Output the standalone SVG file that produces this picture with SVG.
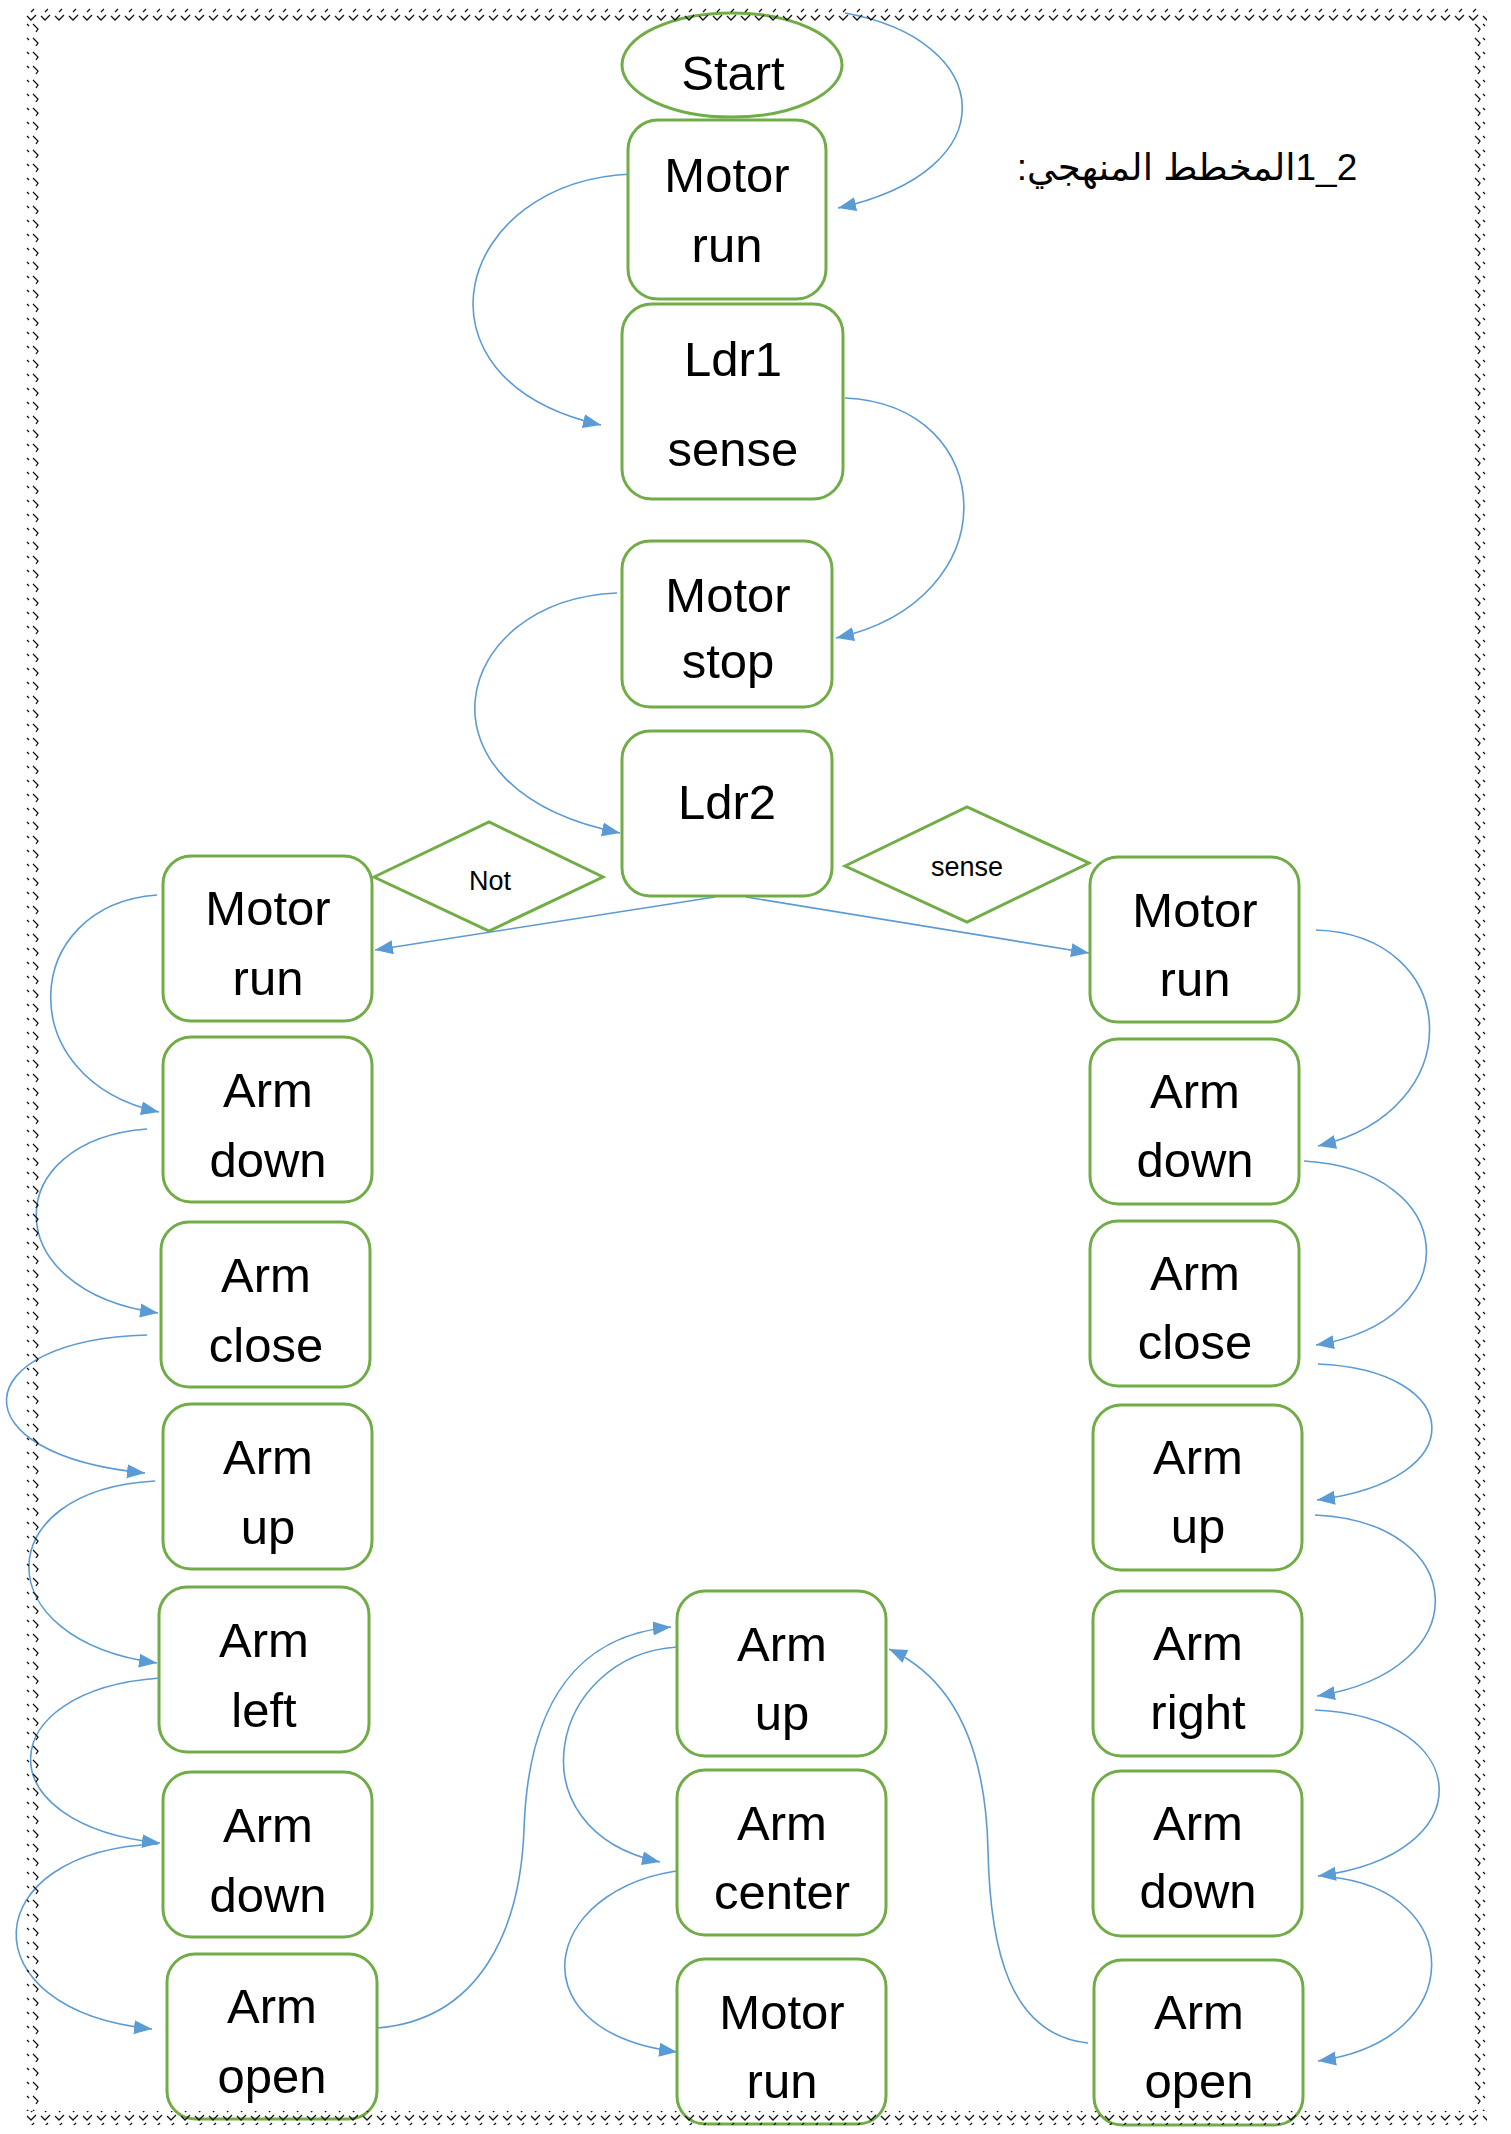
<svg xmlns="http://www.w3.org/2000/svg" width="1511" height="2134" viewBox="0 0 1511 2134">
  <style>
    .box { fill: #ffffff; stroke: #70AD47; stroke-width: 3; }
    .lbl { font-family: "Liberation Sans", Arial, sans-serif; font-size: 49px; fill: #000000; text-anchor: middle; }
    .small { font-family: "Liberation Sans", Arial, sans-serif; font-size: 27px; fill: #000000; text-anchor: middle; }
    .title { font-family: "Liberation Sans", "DejaVu Sans", sans-serif; font-size: 37px; fill: #000000; text-anchor: middle; direction: rtl; unicode-bidi: embed; }
    .link { fill: none; stroke: #5B9BD5; stroke-width: 1.6; marker-end: url(#arrow); }
    .tick { fill: none; stroke: #111111; stroke-width: 1.3; }
  </style>
  <defs>
    <marker id="arrow" markerUnits="userSpaceOnUse" markerWidth="19" markerHeight="16" refX="18" refY="8" orient="auto">
      <path d="M0,1 L18,8 L0,15 z" fill="#5B9BD5"/>
    </marker>
    <!-- page border art: horizontal and vertical zigzag bands -->
    <pattern id="zzH" patternUnits="userSpaceOnUse" x="26" y="8" width="14" height="14">
      <path class="tick" d="M5,4 L8,1 M1,8 L5,12 L10,7"/>
    </pattern>
    <pattern id="zzV" patternUnits="userSpaceOnUse" x="26" y="8" width="14" height="14">
      <path class="tick" d="M1,2 L3,4 M7,2 L12,7 L10,10"/>
    </pattern>
  </defs>

  <rect width="1511" height="2134" fill="#ffffff"/>

  <!-- heading -->
  <text class="title" x="1187" y="180">2_1المخطط المنهجي:</text>

  <!-- connectors -->
  <g id="connectors">
    <path class="link" d="M845,13 C995,40 1010,170 838,208"/>
    <path class="link" d="M633,174 C455,180 400,380 601,425"/>
    <path class="link" d="M845,398 C1000,405 1010,600 836,638"/>
    <path class="link" d="M617,593 C450,600 405,790 620,833"/>
    <path class="link" d="M715,897 L375,950"/>
    <path class="link" d="M746,897 L1089,953"/>
    <!-- left column -->
    <path class="link" d="M157,895 C20,905 10,1080 159,1112"/>
    <path class="link" d="M147,1129 C0,1140 -5,1290 158,1313"/>
    <path class="link" d="M147,1335 C-35,1340 -45,1455 145,1473"/>
    <path class="link" d="M155,1481 C-12,1490 -15,1640 157,1663"/>
    <path class="link" d="M160,1678 C-10,1690 -15,1825 160,1843"/>
    <path class="link" d="M158,1844 C-25,1850 -35,2010 152,2029"/>
    <!-- across to the middle column -->
    <path class="link" d="M377,2028 C480,2020 520,1930 524,1830 C528,1700 580,1635 671,1627"/>
    <path class="link" d="M677,1647 C550,1655 510,1830 660,1862"/>
    <path class="link" d="M700,1869 C545,1875 505,2030 677,2052"/>
    <!-- right column -->
    <path class="link" d="M1316,930 C1462,935 1472,1110 1318,1146"/>
    <path class="link" d="M1304,1161 C1460,1170 1470,1320 1316,1345"/>
    <path class="link" d="M1318,1364 C1465,1370 1475,1480 1317,1500"/>
    <path class="link" d="M1315,1515 C1470,1522 1480,1670 1317,1696"/>
    <path class="link" d="M1315,1710 C1475,1717 1485,1855 1318,1876"/>
    <path class="link" d="M1330,1877 C1465,1890 1470,2040 1318,2061"/>
    <path class="link" d="M1088,2043 C1010,2035 990,1950 988,1850 C985,1720 935,1670 889,1649"/>
  </g>

  <!-- main trunk -->
  <g id="start">
    <ellipse class="box" cx="732" cy="65" rx="110" ry="52"/>
    <text class="lbl" x="733" y="90">Start</text>
  </g>
  <g id="motor-run-1">
    <rect class="box" x="628" y="120" width="198" height="179" rx="30"/>
    <text class="lbl" x="727" y="192">Motor</text>
    <text class="lbl" x="727" y="262">run</text>
  </g>
  <g id="ldr1-sense">
    <rect class="box" x="622" y="304" width="221" height="195" rx="30"/>
    <text class="lbl" x="733" y="376">Ldr1</text>
    <text class="lbl" x="733" y="466">sense</text>
  </g>
  <g id="motor-stop">
    <rect class="box" x="622" y="541" width="210" height="166" rx="28"/>
    <text class="lbl" x="728" y="612">Motor</text>
    <text class="lbl" x="728" y="678">stop</text>
  </g>
  <g id="ldr2">
    <rect class="box" x="622" y="731" width="210" height="165" rx="28"/>
    <text class="lbl" x="727" y="819">Ldr2</text>
  </g>
  <g id="not">
    <polygon class="box" points="374,877 489,822 603,877 489,931"/>
    <text class="small" x="490" y="890">Not</text>
  </g>
  <g id="sense">
    <polygon class="box" points="845,866 967,807 1089,863 967,922"/>
    <text class="small" x="967" y="876">sense</text>
  </g>

  <!-- left branch -->
  <g id="left-motor-run">
    <rect class="box" x="163" y="856" width="209" height="165" rx="28"/>
    <text class="lbl" x="268" y="925">Motor</text>
    <text class="lbl" x="268" y="995">run</text>
  </g>
  <g id="left-arm-down-1">
    <rect class="box" x="163" y="1037" width="209" height="165" rx="28"/>
    <text class="lbl" x="268" y="1107">Arm</text>
    <text class="lbl" x="268" y="1177">down</text>
  </g>
  <g id="left-arm-close">
    <rect class="box" x="161" y="1222" width="209" height="165" rx="28"/>
    <text class="lbl" x="266" y="1292">Arm</text>
    <text class="lbl" x="266" y="1362">close</text>
  </g>
  <g id="left-arm-up">
    <rect class="box" x="163" y="1404" width="209" height="165" rx="28"/>
    <text class="lbl" x="268" y="1474">Arm</text>
    <text class="lbl" x="268" y="1544">up</text>
  </g>
  <g id="left-arm-left">
    <rect class="box" x="159" y="1587" width="210" height="165" rx="28"/>
    <text class="lbl" x="264" y="1657">Arm</text>
    <text class="lbl" x="264" y="1727">left</text>
  </g>
  <g id="left-arm-down-2">
    <rect class="box" x="163" y="1772" width="209" height="165" rx="28"/>
    <text class="lbl" x="268" y="1842">Arm</text>
    <text class="lbl" x="268" y="1912">down</text>
  </g>
  <g id="left-arm-open">
    <rect class="box" x="167" y="1954" width="210" height="165" rx="28"/>
    <text class="lbl" x="272" y="2023">Arm</text>
    <text class="lbl" x="272" y="2093">open</text>
  </g>

  <!-- middle branch -->
  <g id="mid-arm-up">
    <rect class="box" x="677" y="1591" width="209" height="165" rx="28"/>
    <text class="lbl" x="782" y="1661">Arm</text>
    <text class="lbl" x="782" y="1730">up</text>
  </g>
  <g id="mid-arm-center">
    <rect class="box" x="677" y="1770" width="209" height="165" rx="28"/>
    <text class="lbl" x="782" y="1840">Arm</text>
    <text class="lbl" x="782" y="1909">center</text>
  </g>
  <g id="mid-motor-run">
    <rect class="box" x="677" y="1959" width="209" height="165" rx="28"/>
    <text class="lbl" x="782" y="2029">Motor</text>
    <text class="lbl" x="782" y="2098">run</text>
  </g>

  <!-- right branch -->
  <g id="right-motor-run">
    <rect class="box" x="1090" y="857" width="209" height="165" rx="28"/>
    <text class="lbl" x="1195" y="927">Motor</text>
    <text class="lbl" x="1195" y="996">run</text>
  </g>
  <g id="right-arm-down-1">
    <rect class="box" x="1090" y="1039" width="209" height="165" rx="28"/>
    <text class="lbl" x="1195" y="1108">Arm</text>
    <text class="lbl" x="1195" y="1177">down</text>
  </g>
  <g id="right-arm-close">
    <rect class="box" x="1090" y="1221" width="209" height="165" rx="28"/>
    <text class="lbl" x="1195" y="1290">Arm</text>
    <text class="lbl" x="1195" y="1359">close</text>
  </g>
  <g id="right-arm-up">
    <rect class="box" x="1093" y="1405" width="209" height="165" rx="28"/>
    <text class="lbl" x="1198" y="1474">Arm</text>
    <text class="lbl" x="1198" y="1543">up</text>
  </g>
  <g id="right-arm-right">
    <rect class="box" x="1093" y="1591" width="209" height="165" rx="28"/>
    <text class="lbl" x="1198" y="1660">Arm</text>
    <text class="lbl" x="1198" y="1729">right</text>
  </g>
  <g id="right-arm-down-2">
    <rect class="box" x="1093" y="1771" width="209" height="165" rx="28"/>
    <text class="lbl" x="1198" y="1840">Arm</text>
    <text class="lbl" x="1198" y="1908">down</text>
  </g>
  <g id="right-arm-open">
    <rect class="box" x="1094" y="1960" width="209" height="165" rx="28"/>
    <text class="lbl" x="1199" y="2029">Arm</text>
    <text class="lbl" x="1199" y="2098">open</text>
  </g>

  <!-- page border -->
  <g id="page-border">
    <rect x="26" y="8" width="1461" height="14" fill="url(#zzH)"/>
    <rect x="26" y="2111" width="1461" height="14" fill="url(#zzH)"/>
    <rect x="26" y="22" width="14" height="2089" fill="url(#zzV)"/>
    <rect x="1473" y="22" width="14" height="2089" fill="url(#zzV)"/>
  </g>
</svg>
